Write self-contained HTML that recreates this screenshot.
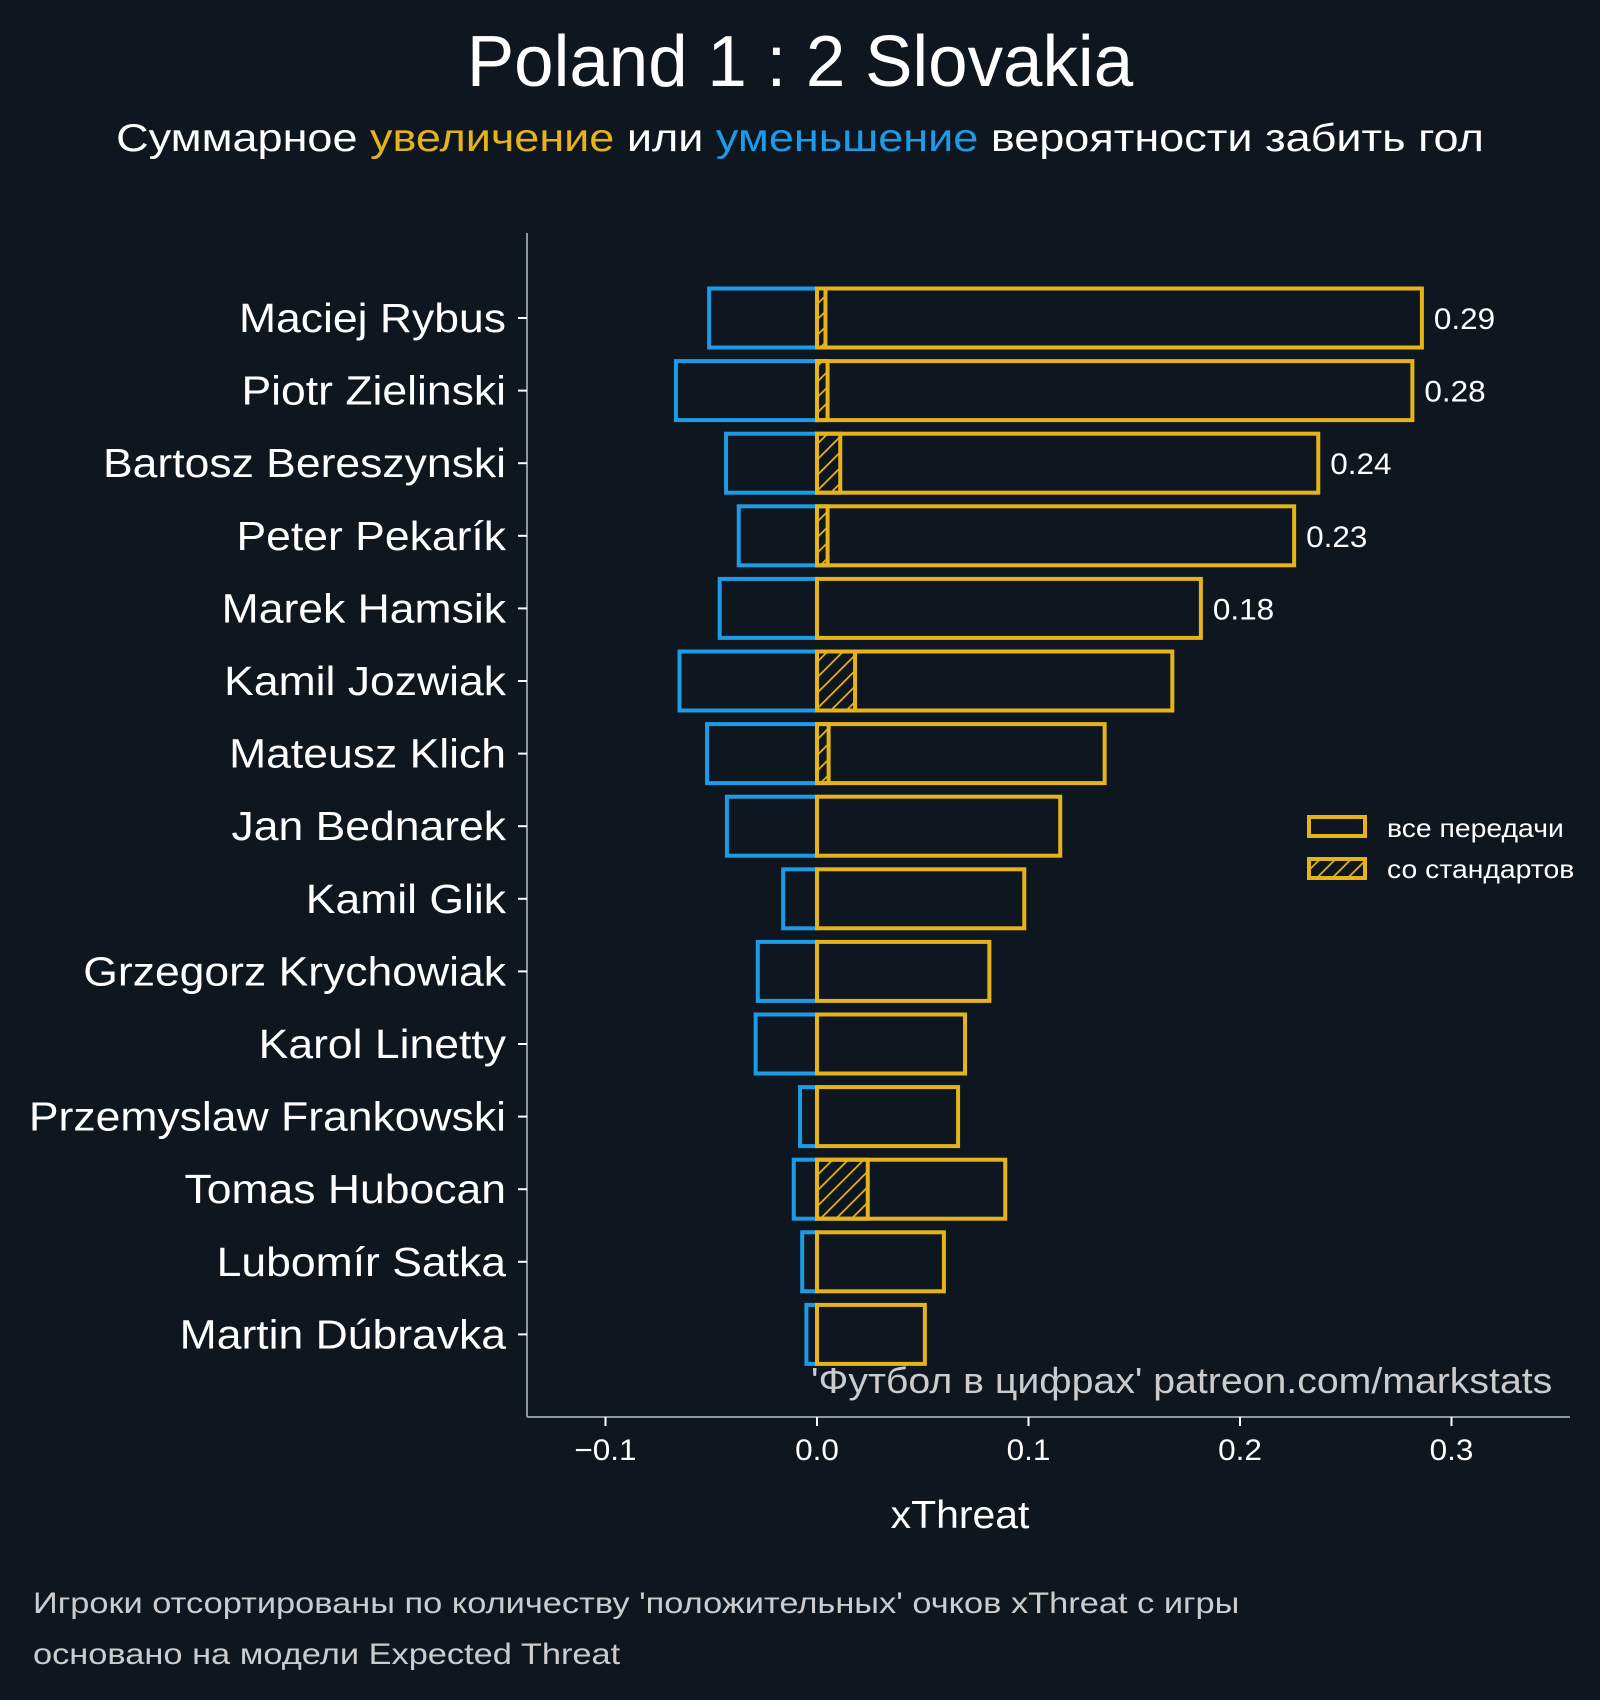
<!DOCTYPE html>
<html><head><meta charset="utf-8">
<style>
html,body{margin:0;padding:0;background:#0e1720;}
svg{display:block;font-family:"Liberation Sans","DejaVu Sans",sans-serif;}
</style></head>
<body>
<svg id="chart" width="1600" height="1700" viewBox="0 0 1600 1700" xmlns="http://www.w3.org/2000/svg">
<defs>
<pattern id="hatch" patternUnits="userSpaceOnUse" width="11" height="11" patternTransform="rotate(45)">
<line x1="0" y1="0" x2="0" y2="11" stroke="#e6b41a" stroke-width="3.5"/>
</pattern>
</defs>
<rect x="0" y="0" width="1600" height="1700" fill="#0e1720"/>
<text class="st" data-f="0.985" x="800" y="86" text-anchor="middle" font-size="72" fill="#ffffff">Poland 1 : 2 Slovakia</text>
<text class="st" data-f="1.154" x="800" y="151" text-anchor="middle" font-size="39" fill="#ffffff">Суммарное <tspan fill="#e6b41a">увеличение</tspan> или <tspan fill="#1e9be6">уменьшение</tspan> вероятности забить гол</text>
<g id="plot"></g>
<line x1="527" y1="233" x2="527" y2="1417" stroke="#8a9a9a" stroke-width="2"/>
<line x1="527" y1="1417" x2="1570" y2="1417" stroke="#8a9a9a" stroke-width="2"/>
<g id="ticks"></g>
<text class="st" data-f="1.05" x="960" y="1528" text-anchor="middle" font-size="39" fill="#ffffff">xThreat</text>
<text class="st" data-f="1.09" x="811" y="1393" font-size="36" fill="#cccccc">'Футбол в цифрах' patreon.com/markstats</text>
<g>
<rect x="1309" y="817" width="56" height="19" fill="none" stroke="#e6b41a" stroke-width="4"/>
<text class="st" data-f="1.09" x="1387" y="837" font-size="26" fill="#ffffff">все передачи</text>
<rect x="1309" y="859" width="56" height="19" fill="url(#hatch)" stroke="#e6b41a" stroke-width="4"/>
<text class="st" data-f="1.09" x="1387" y="878" font-size="26" fill="#ffffff">со стандартов</text>
</g>
<text class="st" data-f="1.146" x="33" y="1613" font-size="30" fill="#cccccc">Игроки отсортированы по количеству 'положительных' очков xThreat с игры</text>
<text class="st" data-f="1.146" x="33" y="1664" font-size="30" fill="#cccccc">основано на модели Expected Threat</text>
</svg>
<script>
const players = ["Maciej Rybus","Piotr Zielinski","Bartosz Bereszynski","Peter Pekarík","Marek Hamsik","Kamil Jozwiak","Mateusz Klich","Jan Bednarek","Kamil Glik","Grzegorz Krychowiak","Karol Linetty","Przemyslaw Frankowski","Tomas Hubocan","Lubomír Satka","Martin Dúbravka"];
const positiveValues = [0.286,0.2815,0.237,0.2256,0.1815,0.168,0.136,0.115,0.098,0.0815,0.070,0.0667,0.089,0.060,0.051];
const negativeValues = [-0.051,-0.0667,-0.043,-0.037,-0.046,-0.065,-0.052,-0.0426,-0.016,-0.028,-0.029,-0.008,-0.011,-0.007,-0.005];
const setPieceValues = [0.004,0.005,0.011,0.005,0,0.018,0.0055,0,0,0,0,0,0.024,0,0];
const xTickValues = [-0.1,0.0,0.1,0.2,0.3];
const xTickLabels = ["\u22120.1","0.0","0.1","0.2","0.3"];

const NS = "http://www.w3.org/2000/svg";
const x0 = 817, xPerUnit = 2115;
function xs(v){ return x0 + v * xPerUnit; }
const yFirst = 318, yStep = 72.6, barH = 59;
function ys(i){ return yFirst + i * yStep; }
function mk(tag, attrs, parent){
  const el = document.createElementNS(NS, tag);
  for (const k in attrs) el.setAttribute(k, attrs[k]);
  parent.appendChild(el);
  return el;
}
const plot = document.getElementById('plot');
const ticks = document.getElementById('ticks');

players.forEach((name, i) => {
  const yc = ys(i);
  const neg = mk('rect', {x: xs(negativeValues[i]), y: yc - barH/2, width: xs(0) - xs(negativeValues[i]), height: barH, fill: 'none', stroke: '#1e9be6', 'stroke-width': 4}, plot);
  
  
  if (setPieceValues[i] > 0) {
    const sp = mk('rect', {x: xs(0), y: yc - barH/2, width: xs(setPieceValues[i]) - xs(0), height: barH, fill: 'url(#hatch)', stroke: '#e6b41a', 'stroke-width': 4}, plot);
    
    
  }
  const pos = mk('rect', {x: xs(0), y: yc - barH/2, width: xs(positiveValues[i]) - xs(0), height: barH, fill: 'none', stroke: '#e6b41a', 'stroke-width': 4}, plot);
  
  
  if (i < 5) {
    const vl = mk('text', {x: xs(positiveValues[i]) + 12, y: yc + 11, 'font-size': 30, fill: '#ffffff', class: 'st', 'data-f': '1.05'}, plot);
    vl.textContent = positiveValues[i].toFixed(2);
    
    
  }
  const tk = mk('line', {x1: 518, y1: yc, x2: 527, y2: yc, stroke: '#ffffff', 'stroke-width': 2}, ticks);
  
  
  const lb = mk('text', {x: 506, y: yc + 14, 'text-anchor': 'end', 'font-size': 41, fill: '#ffffff', class: 'st', 'data-f': '1.085'}, ticks);
  lb.textContent = name;
  
  
});

xTickValues.forEach((v, i) => {
  const tk = mk('line', {x1: xs(v), y1: 1417, x2: xs(v), y2: 1426, stroke: '#ffffff', 'stroke-width': 2}, ticks);
  
  
  const lb = mk('text', {x: xs(v), y: 1460, 'text-anchor': 'middle', 'font-size': 30, fill: '#ffffff', class: 'st', 'data-f': '1.05'}, ticks);
  lb.textContent = xTickLabels[i];
  
  
});

document.querySelectorAll('text.st').forEach(t => {
  const f = parseFloat(t.getAttribute('data-f'));
  const w = t.getComputedTextLength();
  t.setAttribute('textLength', (w * f).toFixed(1));
  t.setAttribute('lengthAdjust', 'spacingAndGlyphs');
});
</script>
</body></html>
